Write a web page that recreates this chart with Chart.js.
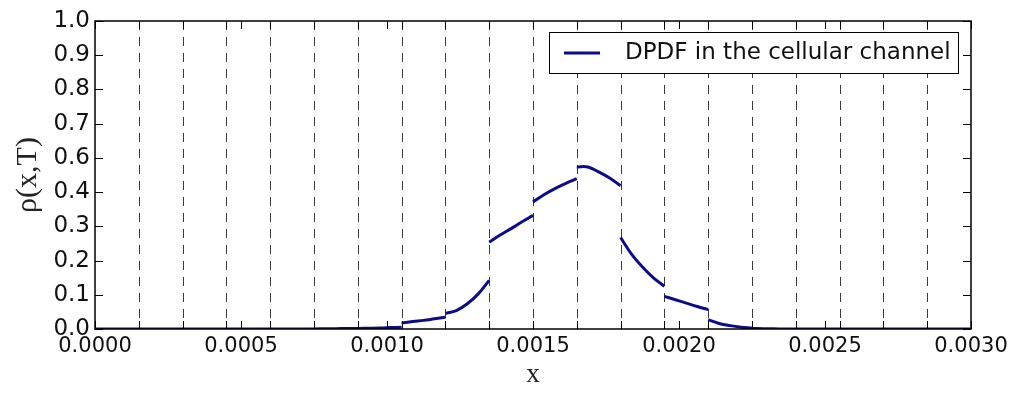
<!DOCTYPE html>
<html lang="en">
<head>
    <meta charset="UTF-8">
    <title>DPDF in the cellular channel</title>
    <script src="https://cdn.jsdelivr.net/npm/chart.js"></script>
    <style>
        html, body { margin: 0; padding: 0; background: #fff; }
        #wrap { width: 1018px; height: 395px; }
    </style>
</head>
<body>
    <div id="wrap"><canvas id="dpdfChart"></canvas></div>

    <script>
        // cells of the channel, each 0.00015 wide
        const cellWidth = 0.00015;
        const cellCount = 20;
        // where inside each cell a value was read (fraction of the cell)
        const sampleAt = [0, 0.25, 0.5, 0.75, 1];
        // density, one row per cell
        const densityByCell = [
            [0, 0, 0, 0, 0],
            [0, 0, 0, 0, 0],
            [0, 0, 0, 0, 0],
            [0, 0, 0, 0, 0],
            [0, 0, 0, 0, 0.0003],
            [0.0003, 0.0006, 0.001, 0.0015, 0.002],
            [0.002, 0.0025, 0.003, 0.0045, 0.006],
            [0.019, 0.024, 0.028, 0.033, 0.038],
            [0.051, 0.060, 0.082, 0.114, 0.158],
            [0.282, 0.305, 0.326, 0.348, 0.369],
            [0.412, 0.436, 0.456, 0.473, 0.488],
            [0.526, 0.526, 0.510, 0.490, 0.465],
            [0.297, 0.243, 0.201, 0.166, 0.139],
            [0.106, 0.095, 0.084, 0.073, 0.063],
            [0.030, 0.018, 0.011, 0.006, 0.003],
            [0.002, 0.001, 0.0005, 0.0003, 0.0002],
            [0, 0, 0, 0, 0],
            [0, 0, 0, 0, 0],
            [0, 0, 0, 0, 0],
            [0, 0, 0, 0, 0]
        ];
        const xTickValues = [0, 0.0005, 0.001, 0.0015, 0.002, 0.0025, 0.003];
        const yTickValues = [0, 1/9, 2/9, 3/9, 4/9, 5/9, 6/9, 7/9, 8/9, 1];
        const seriesLabel = "DPDF in the cellular channel";

        // one point list, broken with a null at every cell edge
        let points = [];
        densityByCell.forEach((row, k) => {
            row.forEach((v, i) => {
                points.push({ x: (k + sampleAt[i]) * cellWidth, y: v });
            });
            if (k < cellCount - 1) points.push({ x: (k + 1) * cellWidth, y: null });
        });

        let cellEdges = [];
        for (let k = 1; k < cellCount; k++) cellEdges.push(k * cellWidth);

        const lineColor = "#0c0c8a";

        const frameAndTicks = {
            id: "frameAndTicks",
            beforeDatasetsDraw(chart) {
                const { ctx, chartArea: a, scales: { x } } = chart;
                ctx.save();
                ctx.strokeStyle = "#3a3a3a";
                ctx.lineWidth = 1;
                ctx.setLineDash([9, 7]);
                cellEdges.forEach(e => {
                    const px = Math.round(x.getPixelForValue(e)) + 0.5;
                    ctx.beginPath();
                    ctx.moveTo(px, a.top);
                    ctx.lineTo(px, a.bottom);
                    ctx.stroke();
                });
                ctx.restore();
            },
            afterDatasetsDraw(chart) {
                const { ctx, chartArea: a, scales: { x, y } } = chart;
                ctx.save();
                ctx.strokeStyle = "#000";
                ctx.lineWidth = 1;
                // inward ticks
                cellEdges.concat(xTickValues).forEach(v => {
                    const px = Math.round(x.getPixelForValue(v)) + 0.5;
                    ctx.beginPath();
                    ctx.moveTo(px, a.bottom); ctx.lineTo(px, a.bottom - 8);
                    ctx.moveTo(px, a.top); ctx.lineTo(px, a.top + 8);
                    ctx.stroke();
                });
                yTickValues.forEach(v => {
                    const py = Math.round(y.getPixelForValue(v)) + 0.5;
                    ctx.beginPath();
                    ctx.moveTo(a.left, py); ctx.lineTo(a.left + 8, py);
                    ctx.moveTo(a.right, py); ctx.lineTo(a.right - 8, py);
                    ctx.stroke();
                });
                ctx.lineWidth = 1.5;
                ctx.strokeRect(a.left, a.top, a.right - a.left, a.bottom - a.top);

                // legend box in the upper right corner
                const bx = a.right - 422, by = a.top + 11, bw = 409, bh = 41;
                ctx.fillStyle = "#fff";
                ctx.fillRect(bx, by, bw, bh);
                ctx.lineWidth = 1;
                ctx.strokeRect(bx + 0.5, by + 0.5, bw, bh);
                ctx.strokeStyle = lineColor;
                ctx.lineWidth = 3;
                ctx.beginPath();
                ctx.moveTo(bx + 15, by + 21);
                ctx.lineTo(bx + 51, by + 21);
                ctx.stroke();
                ctx.fillStyle = "#111";
                ctx.font = "23px 'DejaVu Sans'";
                ctx.textBaseline = "middle";
                ctx.fillText(chart.data.datasets[0].label, bx + 76, by + 21);
                ctx.restore();
            }
        };

        new Chart(document.getElementById("dpdfChart"), {
            type: "line",
            data: {
                datasets: [{
                    label: seriesLabel,
                    data: points,
                    borderColor: lineColor,
                    borderWidth: 3,
                    pointRadius: 0,
                    tension: 0.4,
                    spanGaps: false,
                    fill: false
                }]
            },
            options: {
                responsive: true,
                maintainAspectRatio: false,
                animation: false,
                layout: { padding: { left: 0, top: 21, right: 47, bottom: 0 } },
                plugins: {
                    legend: { display: false },
                    tooltip: { enabled: false }
                },
                scales: {
                    x: {
                        type: "linear",
                        min: 0,
                        max: 0.003,
                        afterBuildTicks: s => { s.ticks = xTickValues.map(v => ({ value: v })); },
                        afterFit: s => { s.height = 395 - 329; },
                        grid: { display: false, drawTicks: false },
                        border: { display: false },
                        ticks: {
                            color: "#111",
                            padding: 5,
                            maxRotation: 0,
                            font: { family: "DejaVu Sans", size: 21 },
                            callback: v => Number(v).toFixed(4)
                        },
                        title: {
                            display: true,
                            text: "x",
                            color: "#222",
                            padding: { top: 10 },
                            font: { family: "Liberation Serif", size: 27 }
                        }
                    },
                    y: {
                        min: 0,
                        max: 1,
                        afterBuildTicks: s => { s.ticks = yTickValues.map(v => ({ value: v })); },
                        afterFit: s => { s.width = 95; },
                        grid: { display: false, drawTicks: false },
                        border: { display: false },
                        ticks: {
                            color: "#111",
                            padding: 5,
                            font: { family: "DejaVu Sans", size: 23 },
                            callback: v => Number(v).toFixed(1)
                        },
                        title: {
                            display: true,
                            text: "ρ(x,T)",
                            color: "#222",
                            padding: { top: 10, bottom: 4 },
                            font: { family: "Liberation Serif", size: 30 }
                        }
                    }
                }
            },
            plugins: [frameAndTicks]
        });
    </script>
</body>
</html>
